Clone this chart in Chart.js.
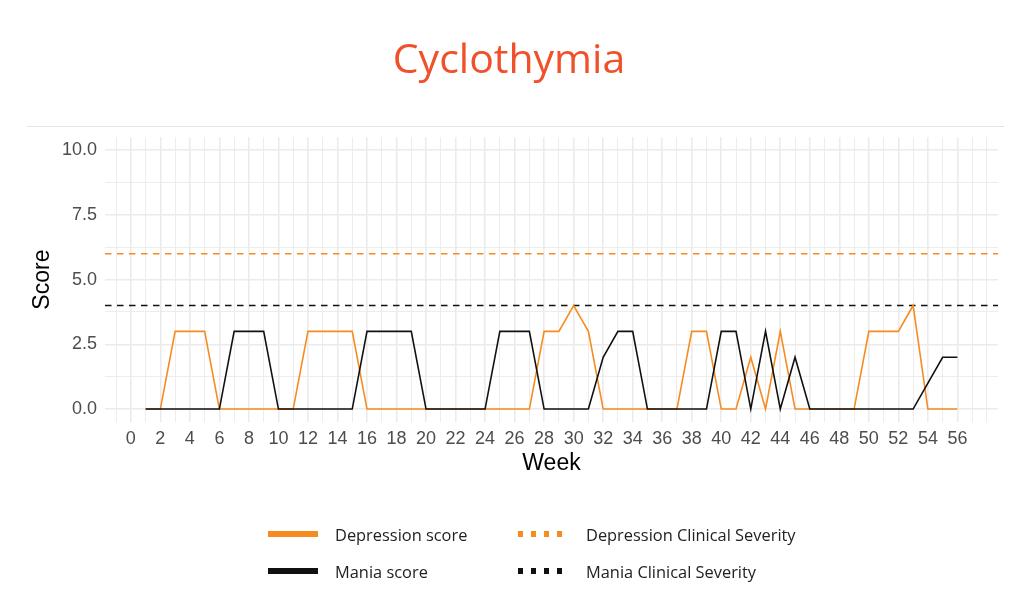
<!DOCTYPE html>
<html>
<head>
<meta charset="utf-8">
<title>Cyclothymia</title>
<script src="https://cdn.jsdelivr.net/npm/chart.js@4.4.1/dist/chart.umd.min.js"></script>
<style>
  html, body { margin: 0; padding: 0; background: #fff; }
  #wrap { position: relative; width: 1032px; height: 596px; overflow: hidden; }
  #chart { position: absolute; left: 0; top: 0; }
  .legend-item {
    position: absolute;
    display: flex;
    align-items: center;
    height: 24px;
    font-family: 'Open Sans', sans-serif;
    font-size: 16.4px;
    color: #222;
    white-space: nowrap;
  }
  .swatch { height: 6px; flex: none; }
</style>
</head>
<body>
<div id="wrap">
  <canvas id="chart" width="1032" height="596"></canvas>
  <div id="legend"></div>
</div>
<script>
// Weekly scores
const weeks = [1, 2, 3, 4, 5, 6, 7, 8, 9, 10, 11, 12, 13, 14, 15, 16, 17, 18, 19, 20,
    21, 22, 23, 24, 25, 26, 27, 28, 29, 30, 31, 32, 33, 34, 35, 36, 37, 38, 39, 40,
    41, 42, 43, 44, 45, 46, 47, 48, 49, 50, 51, 52, 53, 54, 55, 56];
const depressionScore = [0, 0, 3, 3, 3, 0, 0, 0, 0, 0, 0, 3, 3, 3, 3, 0, 0, 0, 0, 0,
    0, 0, 0, 0, 0, 0, 0, 3, 3, 4, 3, 0, 0, 0, 0, 0, 0, 3, 3, 0,
    0, 2, 0, 3, 0, 0, 0, 0, 0, 3, 3, 3, 4, 0, 0, 0];
const maniaScore = [0, 0, 0, 0, 0, 0, 3, 3, 3, 0, 0, 0, 0, 0, 0, 3, 3, 3, 3, 0,
    0, 0, 0, 0, 3, 3, 3, 0, 0, 0, 0, 2, 3, 3, 0, 0, 0, 0, 0, 3,
    3, 0, 3, 0, 2, 0, 0, 0, 0, 0, 0, 0, 0, 1, 2, 2];

// Clinical severity thresholds
const depressionSeverity = 6;
const maniaSeverity = 4;

// Axis setup
const xRange = [-1.75, 58.75];
const yRange = [-0.5, 10.5];
const xTickLabels = [0, 2, 4, 6, 8, 10, 12, 14, 16, 18, 20, 22, 24, 26, 28, 30,
    32, 34, 36, 38, 40, 42, 44, 46, 48, 50, 52, 54, 56];
const yTickValues = [0, 2.5, 5, 7.5, 10];
const yTickLabels = ['0.0', '2.5', '5.0', '7.5', '10.0'];

const orange = '#F68B1F';
const black = '#111111';
const gridColor = '#ebebeb';
const tickFont = { family: "'Liberation Sans', Arial, sans-serif", size: 18 };
const axisTitleFont = { family: "'Liberation Sans', Arial, sans-serif", size: 23 };

function toPoints(values) {
    return weeks.map((w, i) => ({ x: w, y: values[i] }));
}
function flatLine(value) {
    return [{ x: xRange[0], y: value }, { x: xRange[1], y: value }];
}

// thin rule under the title
const separator = {
    id: 'separator',
    beforeDraw(chart) {
        const c = chart.ctx;
        c.save();
        c.strokeStyle = '#e4e4e4';
        c.lineWidth = 1;
        c.beginPath();
        c.moveTo(27, 126.5);
        c.lineTo(1004, 126.5);
        c.stroke();
        c.restore();
    }
};

const ctx = document.getElementById('chart').getContext('2d');
const chart = new Chart(ctx, {
    type: 'line',
    data: {
        datasets: [
            {
                label: 'Depression score',
                data: toPoints(depressionScore),
                borderColor: orange,
                borderWidth: 1.6,
                pointRadius: 0,
                tension: 0,
                order: 2
            },
            {
                label: 'Mania score',
                data: toPoints(maniaScore),
                borderColor: black,
                borderWidth: 1.6,
                pointRadius: 0,
                tension: 0,
                order: 1
            },
            {
                label: 'Depression Clinical Severity',
                data: flatLine(depressionSeverity),
                borderColor: orange,
                borderWidth: 1.5,
                borderDash: [6.5, 5.5],
                pointRadius: 0,
                order: 3
            },
            {
                label: 'Mania Clinical Severity',
                data: flatLine(maniaSeverity),
                borderColor: black,
                borderWidth: 1.5,
                borderDash: [6.5, 5.5],
                pointRadius: 0,
                order: 3
            }
        ]
    },
    options: {
        responsive: false,
        animation: false,
        layout: {
            padding: { left: 20, right: 34, top: 0, bottom: 114 }
        },
        plugins: {
            legend: { display: false },
            tooltip: { enabled: false },
            title: {
                display: true,
                text: 'Cyclothymia',
                color: '#F0502A',
                font: { family: "'Open Sans', sans-serif", size: 41, weight: 'normal' },
                padding: { top: 37, bottom: 51 }
            }
        },
        scales: {
            x: {
                type: 'linear',
                min: xRange[0],
                max: xRange[1],
                afterBuildTicks(scale) {
                    const ticks = [];
                    for (let v = -1; v <= 58; v++) ticks.push({ value: v });
                    scale.ticks = ticks;
                },
                afterFit(scale) { scale.height = 60; },
                ticks: {
                    autoSkip: false,
                    maxRotation: 0,
                    padding: 6,
                    color: '#4d4d4d',
                    font: tickFont,
                    callback: v => xTickLabels.includes(v) ? String(v) : ''
                },
                grid: {
                    color: gridColor,
                    drawTicks: false,
                    lineWidth: c => (xTickLabels.includes(c.tick && c.tick.value) ? 1.6 : 0.9)
                },
                border: { display: false },
                title: {
                    display: true,
                    text: 'Week',
                    color: '#000',
                    font: axisTitleFont,
                    padding: { top: 0, bottom: 5 }
                }
            },
            y: {
                min: yRange[0],
                max: yRange[1],
                afterBuildTicks(scale) {
                    const ticks = [];
                    for (let k = 0; k <= 8; k++) ticks.push({ value: k * 1.25 });
                    scale.ticks = ticks;
                },
                afterFit(scale) { scale.width = 85; },
                ticks: {
                    padding: 8,
                    color: '#4d4d4d',
                    font: tickFont,
                    callback: v => {
                        const i = yTickValues.indexOf(v);
                        return i >= 0 ? yTickLabels[i] : '';
                    }
                },
                grid: {
                    color: gridColor,
                    drawTicks: false,
                    lineWidth: c => (yTickValues.includes(c.tick && c.tick.value) ? 1.6 : 0.9)
                },
                border: { display: false },
                title: {
                    display: true,
                    text: 'Score',
                    color: '#000',
                    font: axisTitleFont,
                    padding: { top: 9, bottom: 0 }
                }
            }
        }
    },
    plugins: [separator]
});

// Legend in two columns under the chart
function buildLegend() {
    const legend = document.getElementById('legend');
    const slots = [
        { left: 268, top: 534, width: 50, gap: 17 },
        { left: 268, top: 571, width: 50, gap: 17 },
        { left: 518, top: 534, width: 46, gap: 22 },
        { left: 518, top: 571, width: 46, gap: 22 }
    ];
    chart.data.datasets.forEach((ds, i) => {
        const s = slots[i];
        const item = document.createElement('div');
        item.className = 'legend-item';
        item.style.left = s.left + 'px';
        item.style.top = (s.top - 12) + 'px';

        const sw = document.createElement('div');
        sw.className = 'swatch';
        sw.style.width = s.width + 'px';
        sw.style.marginRight = s.gap + 'px';
        if (ds.borderDash) {
            sw.style.background = `repeating-linear-gradient(to right, ${ds.borderColor} 0 5.5px, transparent 5.5px 13px)`;
        } else {
            sw.style.background = ds.borderColor;
        }

        const label = document.createElement('span');
        label.textContent = ds.label;

        item.appendChild(sw);
        item.appendChild(label);
        legend.appendChild(item);
    });
}
buildLegend();
</script>
</body>
</html>
